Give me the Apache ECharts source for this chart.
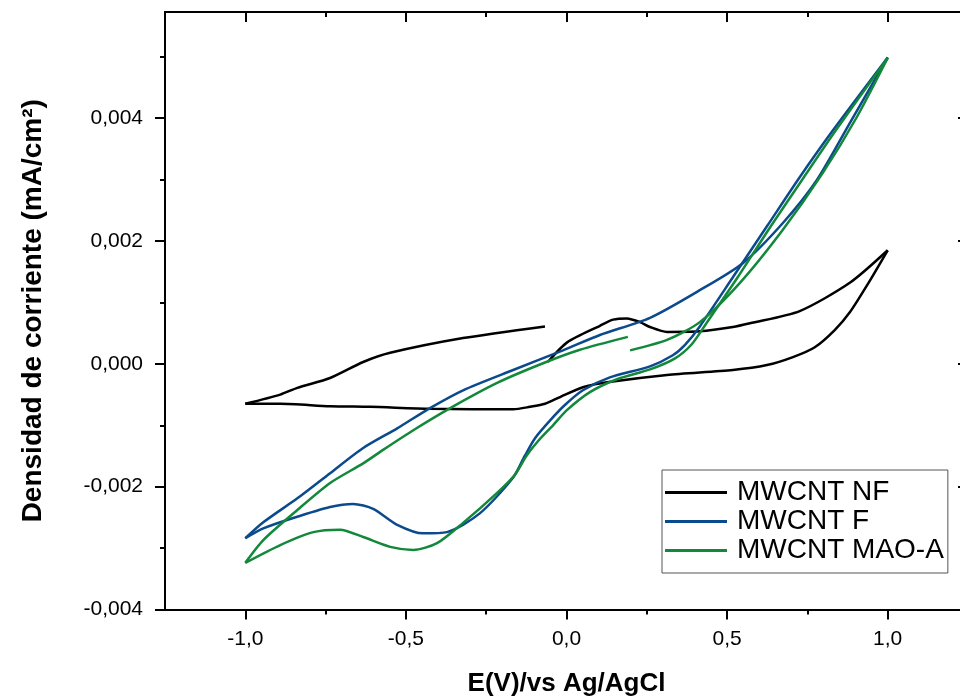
<!DOCTYPE html>
<html>
<head>
<meta charset="utf-8">
<script src="https://cdn.jsdelivr.net/npm/echarts@6/dist/echarts.min.js"></script>
<style>
html,body{margin:0;padding:0;background:#fff;}
#c{width:960px;height:696px;}
</style>
</head>
<body>
<div id="c"></div>
<script>
// ---- data (E in V, current density in mA/cm2) ----
var seriesNames = ['MWCNT NF', 'MWCNT F', 'MWCNT MAO-A'];
var xMajorTicks = [-1.0, -0.5, 0.0, 0.5, 1.0];
var xMinorTicks = [-0.75, -0.25, 0.25, 0.75];
var yMajorTicks = [-0.004, -0.002, 0.000, 0.002, 0.004];
var yMinorTicks = [-0.003, -0.001, 0.001, 0.003, 0.005];

// MWCNT NF
var nfForward = [[-0.058,0.00003],[0.002,0.00035],[0.104,0.00062],[0.145,0.00072],[0.188,0.00074],[0.229,0.00068],[0.260,0.00060],[0.313,0.00052],[0.415,0.00053],[0.518,0.00060],[0.571,0.00066],[0.726,0.00086],[0.882,0.00132],[1.0,0.00185]];
var nfReverse = [[1.0,0.00185],[0.938,0.00130],[0.882,0.00084],[0.835,0.00055],[0.773,0.00027],[0.705,0.00011],[0.624,-0.00002],[0.518,-0.00010],[0.313,-0.00018],[0.126,-0.00030],[0.051,-0.00038],[-0.020,-0.00054],[-0.067,-0.00065],[-0.114,-0.00070],[-0.166,-0.00074],[-0.425,-0.00073],[-0.611,-0.00070],[-0.736,-0.00069],[-0.891,-0.00065],[-1.0,-0.00065]];
var nfReturn = [[-1.0,-0.00065],[-0.891,-0.00050],[-0.838,-0.00039],[-0.736,-0.00023],[-0.633,0.00003],[-0.549,0.00018],[-0.322,0.00042],[-0.067,0.00061]];

// MWCNT F
var fReverse = [[1.0,0.00499],[0.829,0.00380],[0.726,0.00304],[0.624,0.00224],[0.518,0.00141],[0.415,0.00061],[0.369,0.00031],[0.331,0.00014],[0.260,-0.00004],[0.135,-0.00022],[0.051,-0.00043],[-0.005,-0.00067],[-0.051,-0.00092],[-0.098,-0.00121],[-0.130,-0.00150],[-0.166,-0.00185],[-0.269,-0.00243],[-0.372,-0.00274],[-0.446,-0.00276],[-0.527,-0.00262],[-0.602,-0.00236],[-0.664,-0.00228],[-0.736,-0.00233],[-0.851,-0.00251],[-0.944,-0.00268],[-1.0,-0.00284]];
var fForward = [[-1.0,-0.00284],[-0.944,-0.00258],[-0.838,-0.00219],[-0.736,-0.00178],[-0.633,-0.00137],[-0.527,-0.00105],[-0.425,-0.00072],[-0.322,-0.00043],[-0.166,-0.00010],[-0.011,0.00022],[0.104,0.00047],[0.260,0.00075],[0.415,0.00120],[0.549,0.00164],[0.673,0.00229],[0.779,0.00299],[0.882,0.00392],[1.0,0.00499]];

// MWCNT MAO-A
var maoForward1 = [[0.198,0.00022],[0.313,0.00039],[0.415,0.00068],[0.540,0.00132],[0.673,0.00218],[0.798,0.00311],[0.904,0.00402],[1.0,0.00498]];
var maoReverse = [[1.0,0.00498],[0.838,0.00380],[0.739,0.00304],[0.636,0.00224],[0.533,0.00141],[0.434,0.00065],[0.390,0.00032],[0.338,0.00009],[0.260,-0.00009],[0.157,-0.00025],[0.073,-0.00046],[0.002,-0.00075],[-0.042,-0.00100],[-0.089,-0.00126],[-0.125,-0.00150],[-0.160,-0.00180],[-0.216,-0.00210],[-0.322,-0.00259],[-0.403,-0.00292],[-0.477,-0.00303],[-0.549,-0.00298],[-0.633,-0.00282],[-0.705,-0.00270],[-0.788,-0.00274],[-0.891,-0.00295],[-1.0,-0.00324]];
var maoForward2 = [[-1.0,-0.00324],[-0.944,-0.00287],[-0.838,-0.00238],[-0.736,-0.00194],[-0.633,-0.00162],[-0.571,-0.00140],[-0.477,-0.00108],[-0.362,-0.00072],[-0.216,-0.00031],[-0.073,0.00001],[0.042,0.00023],[0.191,0.00044]];

var colors = ['#000000', '#0b4a8c', '#12883a'];

function fmtX(v){ return v.toFixed(1).replace('.', ','); }
function fmtY(v){ return v.toFixed(3).replace('.', ','); }

var chart = echarts.init(document.getElementById('c'), null, {renderer:'canvas'});

var FONT = 'Liberation Sans, Arial, sans-serif';
function lineSeries(name, data, color){
  return {
    name: name, type: 'line', data: data, xAxisIndex: 0, yAxisIndex: 0,
    showSymbol: false, symbol: 'none', smooth: 0.25,
    lineStyle: {color: color, width: 2.5},
    itemStyle: {color: color},
    clip: true, z: 3
  };
}

function xAx(pos, ticks, len, inside, labels){
  return {
    type: 'value', position: pos, min: -1.25, max: 1.25,
    axisLine: {show: true, onZero: false, lineStyle: {color: '#000', width: 2}},
    axisTick: {show: true, inside: inside, length: len, customValues: ticks, lineStyle: {color:'#000', width: 2}},
    axisLabel: labels ? {show: true, customValues: ticks, formatter: fmtX, color: '#000', fontSize: 21, fontFamily: FONT, margin: 19} : {show: false},
    splitLine: {show: false}
  };
}
function yAx(pos, ticks, len, inside, labels){
  return {
    type: 'value', position: pos, min: -0.004, max: 0.00573,
    axisLine: {show: true, onZero: false, lineStyle: {color: '#000', width: 2}},
    axisTick: {show: true, inside: inside, length: len, customValues: ticks, lineStyle: {color:'#000', width: 2}},
    axisLabel: labels ? {show: true, customValues: ticks, formatter: fmtY, color: '#000', fontSize: 21, fontFamily: FONT, margin: 22} : {show: false},
    splitLine: {show: false}
  };
}

var xAxes = [
  xAx('bottom', xMajorTicks, 10, false, true),
  xAx('bottom', xMinorTicks, 5, false, false),
  xAx('top', xMajorTicks, 10, true, false),
  xAx('top', xMinorTicks, 5, true, false)
];
xAxes[0].name = 'E(V)/vs Ag/AgCl';
xAxes[0].nameLocation = 'middle';
xAxes[0].nameGap = 61;
xAxes[0].nameTextStyle = {fontSize: 26, fontWeight: 'bold', color: '#000', fontFamily: FONT};

var yAxes = [
  yAx('left', yMajorTicks, 10, false, true),
  yAx('left', yMinorTicks, 5, false, false),
  yAx('right', yMajorTicks, 10, true, false),
  yAx('right', yMinorTicks, 5, true, false)
];
yAxes[0].name = 'Densidad de corriente (mA/cm²)';
yAxes[0].nameLocation = 'middle';
yAxes[0].nameRotate = 90;
yAxes[0].nameGap = 118;
yAxes[0].nameTextStyle = {fontSize: 28, fontWeight: 'bold', color: '#000', fontFamily: FONT};

var option = {
  backgroundColor: '#ffffff',
  animation: false,
  grid: {left: 165, top: 12, width: 803, height: 597.5, outerBoundsMode: 'none'},
  legend: {
    orient: 'vertical', left: 662, top: 470,
    data: seriesNames,
    icon: 'rect', itemWidth: 62, itemHeight: 3, itemGap: 0,
    padding: [8, 4, 8, 3],
    borderColor: '#555', borderWidth: 1, backgroundColor: '#fff',
    textStyle: {fontSize: 28, color: '#000', fontFamily: FONT, lineHeight: 29, padding: [0, 0, 0, 5]},
    selectedMode: false
  },
  xAxis: xAxes,
  yAxis: yAxes,
  series: [
    lineSeries(seriesNames[0], nfForward, colors[0]),
    lineSeries(seriesNames[0], nfReverse, colors[0]),
    lineSeries(seriesNames[0], nfReturn, colors[0]),
    lineSeries(seriesNames[1], fReverse, colors[1]),
    lineSeries(seriesNames[1], fForward, colors[1]),
    lineSeries(seriesNames[2], maoForward1, colors[2]),
    lineSeries(seriesNames[2], maoReverse, colors[2]),
    lineSeries(seriesNames[2], maoForward2, colors[2])
  ]
};
chart.setOption(option);
</script>
</body>
</html>
